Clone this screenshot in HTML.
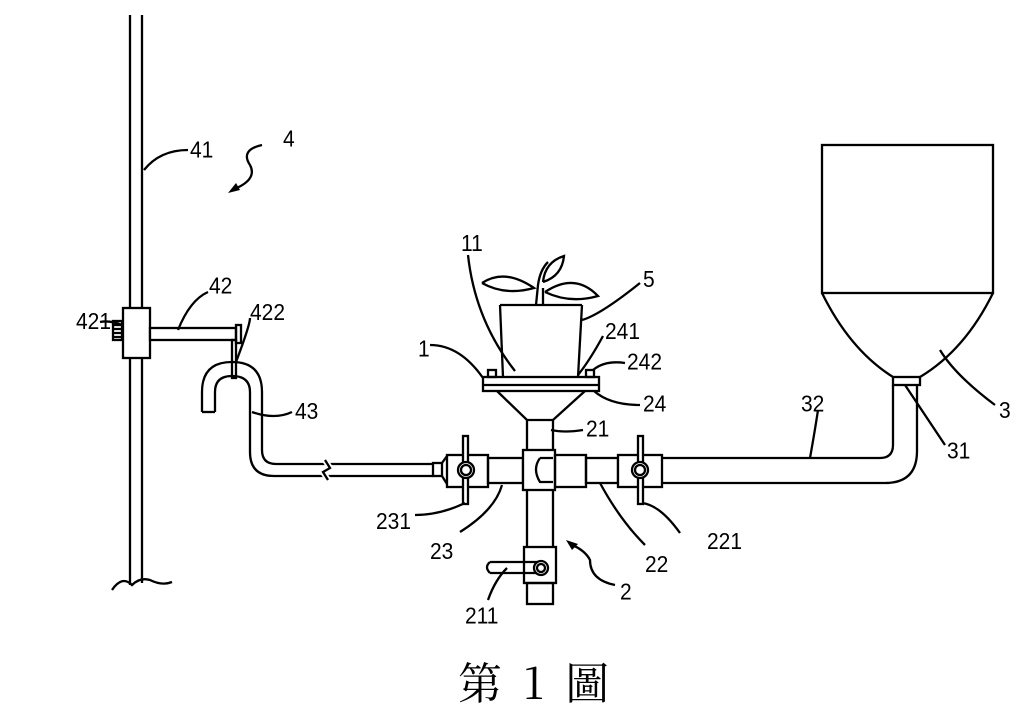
<!DOCTYPE html>
<html><head><meta charset="utf-8"><style>
html,body{margin:0;padding:0;background:#fff;}
svg{display:block}
text{font-family:"Liberation Sans",sans-serif;font-size:21px;fill:#000}
</style></head><body>
<svg width="1024" height="721" viewBox="0 0 1024 721" xmlns="http://www.w3.org/2000/svg">
<g fill="none" stroke="#000" stroke-width="2.3">
<!-- pole -->
<path d="M130 15 V585 M142 15 V583"/>
<path d="M112 590 Q122 575 132 585 Q140 577 150 580 Q162 586 172 582"/>
<rect x="123" y="308" width="27" height="50" fill="#fff"/>
<rect x="113" y="321" width="9" height="19"/>
<path d="M113 325h9M113 329h9M113 333h9M113 337h9"/>
<rect x="150" y="328" width="86" height="12" fill="#fff"/>
<rect x="236" y="325" width="5" height="18"/>
<rect x="232" y="340" width="4" height="38"/>
<!-- tube 43 -->
<path d="M202 412 V392 Q202 362 232 362 Q262 362 262 392 V450 Q262 464 276 464 H433"/>
<path d="M215 412 V392 Q215 376 232 376 Q250 376 250 392 V452 Q250 476 274 476 H433"/>
<path d="M202 412 H215"/>
<path d="M325 460 L330 468 L323 472 L328 480" stroke="#fff" stroke-width="6"/>
<path d="M325 460 L330 468 L323 472 L328 480"/>
<rect x="433" y="463" width="9" height="13"/>
<!-- pipes -->
<path d="M442 463 L447 456 M442 476 L447 484"/>
<rect x="447" y="455" width="41" height="32" fill="#fff"/>
<rect x="488" y="458" width="35" height="25"/>
<rect x="523" y="450" width="32" height="40" fill="#fff"/>
<path d="M540 458 L553 458 M540 458 Q532 469 540 482 L553 482"/>
<rect x="555" y="455" width="31" height="32"/>
<rect x="586" y="458" width="32" height="25"/>
<rect x="618" y="455" width="44" height="32" fill="#fff"/>
<path d="M662 458 H880 Q893 458 893 445 V385 M662 483 H885 Q917 483 917 451 V385"/>
<!-- hopper -->
<rect x="822" y="145" width="171" height="148"/>
<path d="M822 293 Q850 350 893 377 M993 293 Q965 350 920 377"/>
<rect x="893" y="377" width="27" height="8"/>
<!-- valve handles -->
<rect x="463" y="436" width="5" height="68" fill="#fff"/>
<circle cx="466" cy="470" r="8" fill="#fff"/><circle cx="466" cy="470" r="5"/>
<rect x="638" y="436" width="5" height="68" fill="#fff"/>
<circle cx="640" cy="470" r="8" fill="#fff"/><circle cx="640" cy="470" r="5"/>
<!-- vertical 21 -->
<path d="M527 420 V450 M553 420 V450 M527 490 V547 M553 490 V547"/>
<rect x="524" y="547" width="32" height="36"/>
<rect x="527" y="583" width="26" height="21"/>
<path d="M490 562 H540 M490 573 H540 M490 562 Q484 567 490 573"/>
<circle cx="541" cy="568" r="7" fill="#fff"/><circle cx="541" cy="568" r="4"/>
<!-- funnel & flange -->
<path d="M497 391 L527 420 H553 L585 391"/>
<rect x="483" y="377" width="116" height="14" fill="#fff"/>
<path d="M483 385 H599"/>
<path d="M500 305 L503 377 M582 305 L578 377 M500 305 H582"/>
<rect x="488" y="370" width="8" height="7"/><rect x="586" y="370" width="8" height="7"/>
<!-- plant -->
<path d="M536 305 L538 285 Q540 270 548 262 M543 305 L543 288"/>
<path d="M482 283 Q505 268 534 288 Q505 296 482 283"/>
<path d="M545 292 Q575 272 598 296 Q570 304 545 292"/>
<path d="M543 282 Q545 262 564 256 Q562 276 543 282"/>
<!-- leader lines -->
<path d="M144 170 Q160 150 188 150"/>
<path d="M262 145 Q240 150 250 165 Q258 180 232 190"/>
<path d="M178 330 Q190 300 208 292"/>
<path d="M236 362 Q250 325 250 318"/>
<path d="M122 325 Q110 320 100 322"/>
<path d="M252 412 Q275 420 292 412"/>
<path d="M468 255 Q475 320 515 371"/>
<path d="M582 320 Q600 315 640 283"/>
<path d="M578 375 Q590 360 603 336"/>
<path d="M593 370 Q605 360 625 363"/>
<path d="M594 391 Q610 405 640 405"/>
<path d="M551 430 Q565 433 583 430"/>
<path d="M810 458 Q815 430 818 410"/>
<path d="M905 385 Q925 415 945 445"/>
<path d="M940 350 Q955 375 995 405"/>
<path d="M430 345 Q460 345 483 378"/>
<path d="M465 503 Q440 515 415 515"/>
<path d="M502 485 Q495 510 460 532"/>
<path d="M600 483 Q620 520 645 545"/>
<path d="M642 503 Q660 505 680 533"/>
<path d="M507 568 Q495 580 488 600"/>
<path d="M615 585 Q590 580 590 560 Q585 550 570 544"/>
</g>
<path d="M228 193 L236 183 L240 190 Z" fill="#000"/>
<path d="M566 540 L578 544 L572 550 Z" fill="#000"/>
<g transform="scale(1,1.1)">
<text x="190" y="143">41</text>
<text x="283" y="133">4</text>
<text x="209" y="267">42</text>
<text x="250" y="291">422</text>
<text x="76" y="299">421</text>
<text x="295" y="381">43</text>
<text x="461" y="228">11</text>
<text x="643" y="261">5</text>
<text x="605" y="308">241</text>
<text x="418" y="324">1</text>
<text x="627" y="336">242</text>
<text x="643" y="374">24</text>
<text x="586" y="397">21</text>
<text x="801" y="374">32</text>
<text x="947" y="417">31</text>
<text x="999" y="380">3</text>
<text x="376" y="481">231</text>
<text x="430" y="508">23</text>
<text x="645" y="520">22</text>
<text x="707" y="499">221</text>
<text x="465" y="567">211</text>
<text x="620" y="545">2</text>
</g>
<text x="458" y="699" style="font-family:'Noto Serif CJK SC','Liberation Serif',serif;font-size:44px;letter-spacing:5px">第 1 圖</text>
</svg>
</body></html>
